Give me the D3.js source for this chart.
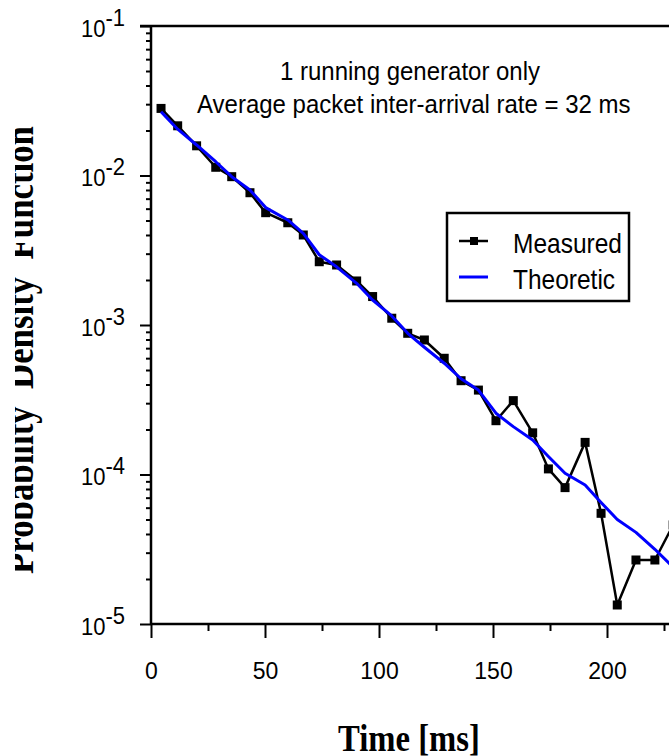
<!DOCTYPE html>
<html>
<head>
<meta charset="utf-8">
<script src="https://cdn.jsdelivr.net/npm/d3@7"></script>
<style>
  html, body { margin: 0; padding: 0; background: #fff; }
  svg { display: block; }
</style>
</head>
<body>
<svg id="chart" width="669" height="756"></svg>
<script>
// time bins [ms]
const times = [4.4, 11.7, 20.0, 28.4, 35.4, 43.4, 50.3, 60.0, 66.8, 73.8,
  81.4, 90.2, 97.2, 105.6, 112.6, 119.9, 128.6, 136.0, 143.6, 151.3,
  158.9, 167.4, 174.3, 181.6, 190.4, 197.4, 204.5, 212.7, 221.0, 229.0];

const measured = [0.0281, 0.0215, 0.0158, 0.01135, 0.00982, 0.00767, 0.00564, 0.00483, 0.0040, 0.00265,
  0.00252, 0.00197, 0.00155, 0.00111, 0.00088, 0.000794, 0.000599, 0.000424, 0.000367, 0.000229,
  0.000312, 0.00019, 0.000109, 8.17e-5, 0.000164, 5.5e-5, 1.34e-5, 2.68e-5, 2.68e-5, 4.6e-5];

const theoretic = [0.0267, 0.0204, 0.0160, 0.01236, 0.00982, 0.0080, 0.0061, 0.00504, 0.0041, 0.00295,
  0.00245, 0.0019, 0.00147, 0.00115, 0.00088, 0.00071, 0.000555, 0.000437, 0.000367, 0.000257,
  0.000209, 0.00017, 0.000132, 0.000102, 8.5e-5, 6.5e-5, 5.0e-5, 4.1e-5, 3.16e-5, 2.4e-5];

const xMajorTicks = [0, 50, 100, 150, 200];
const xMinorTicks = [25, 75, 125, 175, 225];
const yExponents = [-1, -2, -3, -4, -5];

const svg = d3.select('#chart');

const x = d3.scaleLinear().domain([0, 250]).range([151, 721]);
const y = d3.scaleLog().domain([1e-5, 1e-1]).range([624, 26]);

const sans = 'Arial, "Liberation Sans", Helvetica, sans-serif';
const serif = '"Times New Roman", "Liberation Serif", Times, serif';

// y minor ticks: 2..9 per decade
const yMinor = [];
for (let e = -5; e < -1; e += 1) {
  for (let m = 2; m <= 9; m += 1) yMinor.push(m * Math.pow(10, e));
}

function styleAxis(g) {
  g.selectAll('line').attr('stroke', '#000').attr('stroke-width', 2);
  g.select('.domain').remove();
}

// x axis
svg.append('g')
  .attr('transform', `translate(0,${y(1e-5)})`)
  .call(d3.axisBottom(x).tickValues(xMinorTicks).tickSize(7).tickFormat(''))
  .call(styleAxis);

const xAxis = svg.append('g')
  .attr('transform', `translate(0,${y(1e-5)})`)
  .call(d3.axisBottom(x).tickValues(xMajorTicks).tickSize(14).tickFormat(d3.format('d')))
  .call(styleAxis);

xAxis.selectAll('text')
  .attr('font-family', sans)
  .attr('font-size', 23)
  .attr('fill', '#000')
  .attr('y', 0)
  .attr('dy', 0)
  .attr('transform', 'translate(0,55) scale(1,1.08)');

// y axis
svg.append('g')
  .attr('transform', `translate(${x(0)},0)`)
  .call(d3.axisLeft(y).tickValues(yMinor).tickSize(5).tickFormat(''))
  .call(styleAxis);

svg.append('g')
  .attr('transform', `translate(${x(0)},0)`)
  .call(d3.axisLeft(y).tickValues(yExponents.map((e) => Math.pow(10, e))).tickSize(11).tickFormat(''))
  .call(styleAxis);

yExponents.forEach((e) => {
  const label = svg.append('text')
    .attr('transform', `translate(125,${y(Math.pow(10, e)) + 10.5}) scale(1,1.08)`)
    .attr('text-anchor', 'end')
    .attr('font-family', sans)
    .attr('font-size', 22);
  label.append('tspan').text('10');
  label.append('tspan').attr('dy', -10).text(`-${-e}`);
});

// frame lines: left, bottom and top
svg.append('line')
  .attr('x1', x(0)).attr('x2', x(0))
  .attr('y1', y(1e-1)).attr('y2', y(1e-5))
  .attr('stroke', '#000').attr('stroke-width', 2.5);
svg.append('line')
  .attr('x1', x(0)).attr('x2', 669)
  .attr('y1', y(1e-5)).attr('y2', y(1e-5))
  .attr('stroke', '#000').attr('stroke-width', 2.5);
svg.append('line')
  .attr('x1', x(0) - 11).attr('x2', 669)
  .attr('y1', y(1e-1)).attr('y2', y(1e-1))
  .attr('stroke', '#000').attr('stroke-width', 2.5);

// series
const measuredPts = times.map((t, i) => [t, measured[i]]);
const theoreticPts = times.map((t, i) => [t, theoretic[i]]);

const line = d3.line().x((d) => x(d[0])).y((d) => y(d[1]));

svg.append('path')
  .datum(measuredPts)
  .attr('d', line)
  .attr('fill', 'none')
  .attr('stroke', '#000')
  .attr('stroke-width', 2.5)
  .attr('stroke-linejoin', 'round');

svg.selectAll('rect.marker')
  .data(measuredPts)
  .enter().append('rect')
  .attr('class', 'marker')
  .attr('x', (d) => x(d[0]) - 4.5)
  .attr('y', (d) => y(d[1]) - 4.5)
  .attr('width', 9)
  .attr('height', 9)
  .attr('fill', '#000');

svg.append('path')
  .datum(theoreticPts)
  .attr('d', line)
  .attr('fill', 'none')
  .attr('stroke', '#0000ff')
  .attr('stroke-width', 3)
  .attr('stroke-linejoin', 'round');

// annotation
svg.append('text')
  .attr('transform', 'translate(280,80) scale(1,1.05)')
  .attr('font-family', sans).attr('font-size', 24)
  .text('1 running generator only');
svg.append('text')
  .attr('transform', 'translate(197,113) scale(1,1.05)')
  .attr('font-family', sans).attr('font-size', 24)
  .text('Average packet inter-arrival rate = 32 ms');

// legend
const legend = svg.append('g');
legend.append('rect')
  .attr('x', 447).attr('y', 213)
  .attr('width', 182).attr('height', 88)
  .attr('fill', '#fff').attr('stroke', '#000').attr('stroke-width', 2.5);
legend.append('line')
  .attr('x1', 459).attr('x2', 488).attr('y1', 241).attr('y2', 241)
  .attr('stroke', '#000').attr('stroke-width', 2.5);
legend.append('rect')
  .attr('x', 470).attr('y', 237).attr('width', 8).attr('height', 8)
  .attr('fill', '#000');
legend.append('text')
  .attr('transform', 'translate(513,253) scale(1,1.1)')
  .attr('font-family', sans).attr('font-size', 24.5)
  .text('Measured');
legend.append('line')
  .attr('x1', 459).attr('x2', 488).attr('y1', 277).attr('y2', 277)
  .attr('stroke', '#0000ff').attr('stroke-width', 3);
legend.append('text')
  .attr('transform', 'translate(513,289) scale(1,1.1)')
  .attr('font-family', sans).attr('font-size', 24.5)
  .text('Theoretic');

// axis titles
svg.append('text')
  .attr('transform', 'translate(409,751) scale(0.86,1)')
  .attr('text-anchor', 'middle')
  .attr('font-family', serif).attr('font-weight', 'bold').attr('font-size', 38)
  .text('Time [ms]');

// the y title is clipped along its top edge, as in the source figure
svg.append('clipPath')
  .attr('id', 'ytitle-clip')
  .append('rect')
  .attr('x', 15).attr('y', 0).attr('width', 120).attr('height', 756);

svg.append('g')
  .attr('clip-path', 'url(#ytitle-clip)')
  .append('text')
  .attr('transform', 'translate(33,350) rotate(-90) scale(0.87,1)')
  .attr('text-anchor', 'middle')
  .attr('font-family', serif).attr('font-weight', 'bold').attr('font-size', 40)
  .text('Probability\u00a0 Density\u00a0 Function');
</script>
</body>
</html>
